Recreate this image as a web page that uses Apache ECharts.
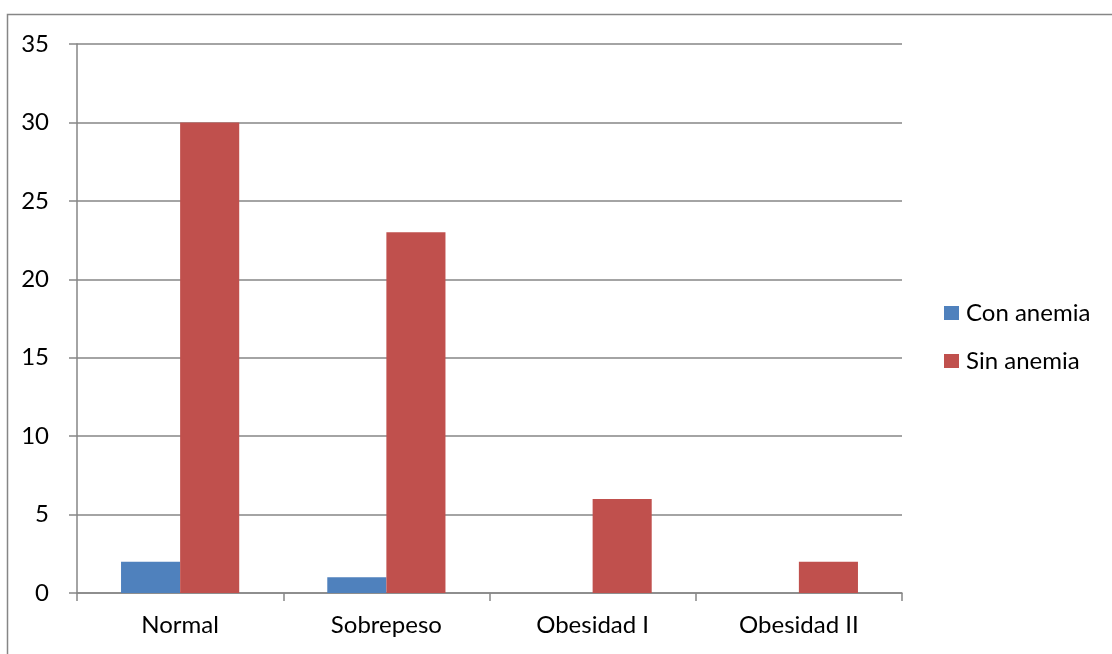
<!DOCTYPE html>
<html>
<head>
<meta charset="utf-8">
<script src="https://cdn.jsdelivr.net/npm/echarts@6/dist/echarts.min.js"></script>
<style>
  html, body { margin: 0; padding: 0; background: #fff; }
  #chart { width: 1112px; height: 654px; }
</style>
</head>
<body>
<div id="chart"></div>
<script>
// Categories and counts per group
const categories = ['Normal', 'Sobrepeso', 'Obesidad I', 'Obesidad II'];
const conAnemia = [2, 1, 0, 0];
const sinAnemia = [30, 23, 6, 2];
const seriesNames = ['Con anemia', 'Sin anemia'];

const axisGray = '#868686';
const font = 'Lato, "Open Sans", sans-serif';

const chart = echarts.init(document.getElementById('chart'), null, { renderer: 'canvas' });
chart.setOption({
  animation: false,
  backgroundColor: '#fff',
  graphic: [{
    type: 'rect',
    shape: { x: 7.5, y: 14.5, width: 1200, height: 700 },
    style: { fill: 'none', stroke: axisGray, lineWidth: 1.5 },
    silent: true
  }],
  legend: {
    orient: 'vertical',
    left: 944,
    top: 301,
    padding: 0,
    itemWidth: 15,
    itemHeight: 14,
    itemGap: 24,
    icon: 'rect',
    textStyle: { fontFamily: font, fontSize: 24, lineHeight: 24, color: '#000', padding: [0, 0, 0, 2] },
    data: seriesNames
  },
  grid: { left: 77, right: 210, top: 44, bottom: 61 },
  xAxis: {
    type: 'category',
    data: categories,
    axisLine: { lineStyle: { color: axisGray, width: 1.5 } },
    axisTick: { show: true, length: 8, alignWithLabel: false, lineStyle: { color: axisGray, width: 1.5 } },
    axisLabel: { fontFamily: font, fontSize: 24, color: '#000', margin: 20 },
    splitLine: { show: false }
  },
  yAxis: {
    type: 'value',
    min: 0,
    max: 35,
    interval: 5,
    axisLine: { show: true, lineStyle: { color: axisGray, width: 1.5 } },
    axisTick: { show: true, length: 8, lineStyle: { color: axisGray, width: 1.5 } },
    axisLabel: { fontFamily: font, fontSize: 24, color: '#000', margin: 28 },
    splitLine: { show: true, lineStyle: { color: axisGray, width: 1.5 } }
  },
  series: [
    {
      name: seriesNames[0],
      type: 'bar',
      data: conAnemia,
      barGap: '0%',
      barCategoryGap: '42.7%',
      itemStyle: { color: '#4F81BD' }
    },
    {
      name: seriesNames[1],
      type: 'bar',
      data: sinAnemia,
      barGap: '0%',
      barCategoryGap: '42.7%',
      itemStyle: { color: '#C0504D' }
    }
  ]
});
</script>
</body>
</html>
